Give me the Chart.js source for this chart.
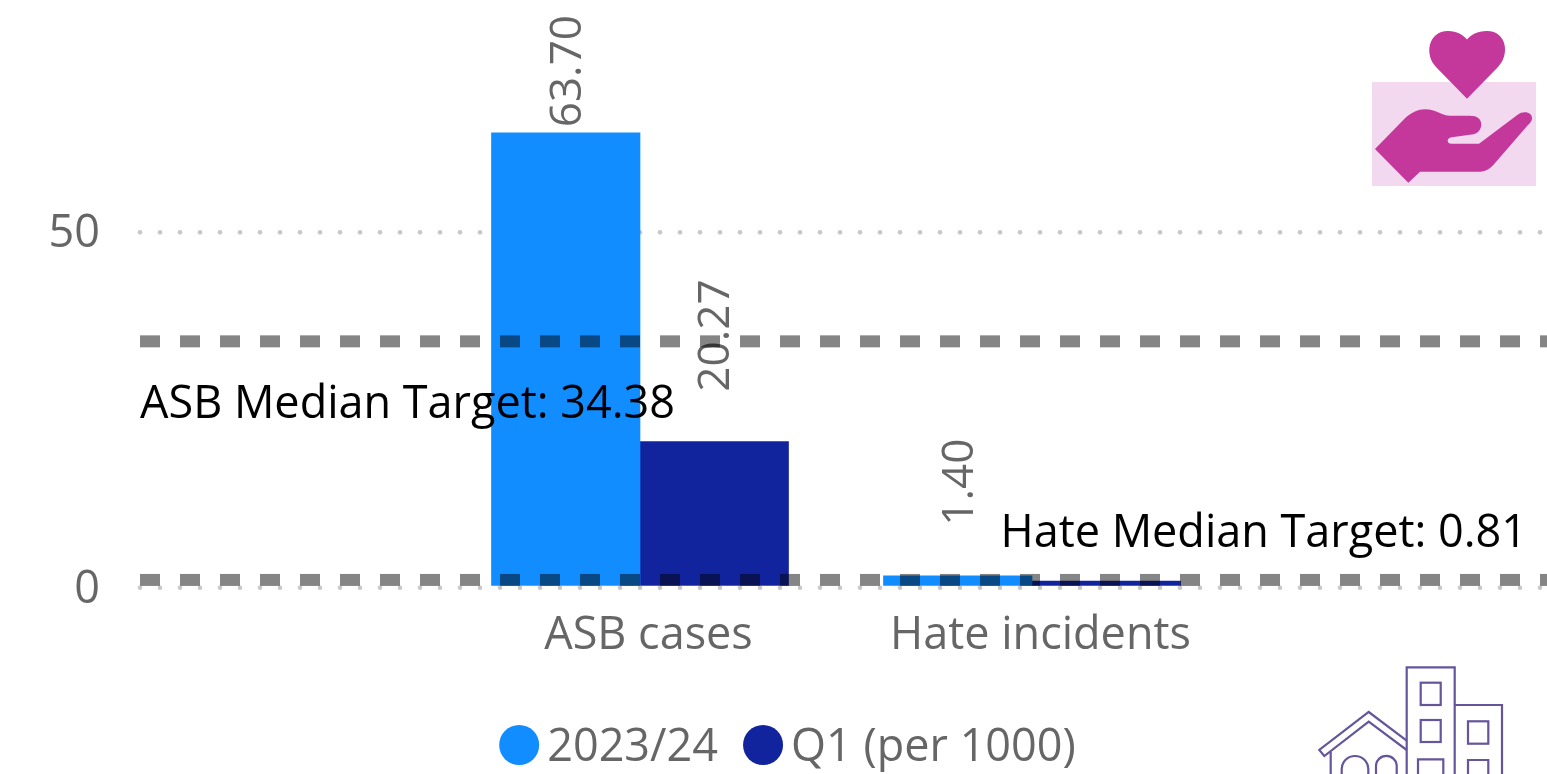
<!DOCTYPE html>
<html>
<head>
<meta charset="utf-8">
<title>ASB and hate incidents</title>
<style>
  html, body { margin: 0; padding: 0; background: #fff; overflow: hidden; }
  #wrap { position: relative; width: 1547px; height: 774px; }
  #chart { position: absolute; left: 0; top: 0; }
  svg { position: absolute; left: 0; top: 0; pointer-events: none; }
</style>
</head>
<body>
<div id="wrap">
  <canvas id="chart" width="1547" height="774"></canvas>
  <svg width="1547" height="774" viewBox="0 0 1547 774">
    <rect x="1372" y="82" width="164" height="104" fill="#f3d9ef"/>
    <g fill="#c4379b">
      <path d="M1467 98.7 L1436 67 C1424 55 1428 31 1448 31 C1457 31 1463 35 1467 39.5 C1471 35 1477 31 1487 31 C1507 31 1510 55 1498 67 Z"/>
      <path d="M1375 149 L1405 118.3 C1412 112 1418 109.3 1425 109.3 C1436 109.3 1442 115.7 1450 115.7 L1470 115.7 C1477 115.7 1481.3 119 1481.3 124.3 C1481.3 130 1477 134.3 1471.7 134.6 L1451.7 137.3 C1449 137.6 1447.7 139 1447.7 140.7 C1447.7 142.5 1449 143.7 1451.7 143.7 L1479 143.7 L1517.3 115 C1520 113 1522 112.3 1525 112.3 C1530 112.3 1533 116 1531.7 120 C1531 122 1530 123 1528 125 L1493.3 165 C1489 169.5 1485 171.7 1480 171.7 L1420 171.7 L1408.3 182.7 Z"/>
    </g>
    <g fill="none" stroke="#65559b" stroke-width="2.2">
      <path d="M1406.7 780 V667.3 H1454.7 V780"/>
      <path d="M1454.7 705 H1502 V780"/>
      <rect x="1420.7" y="682.7" width="20" height="22.3"/>
      <rect x="1420.7" y="720" width="20" height="22"/>
      <path d="M1418 780 V759.3 H1443.3 V780"/>
      <rect x="1468" y="721.3" width="20.3" height="22.4"/>
      <path d="M1468 780 V760 H1488.3 V780"/>
      <path d="M1406.7 740.7 L1368.7 712 L1319.3 750 L1324.3 756 L1368.7 721.7 L1406.7 750"/>
      <path d="M1330.7 752 V780"/>
      <path d="M1341.7 780 V769 A13.3 13 0 0 1 1368.3 769 V780"/>
      <path d="M1376 780 V766 A10.3 10 0 0 1 1396.7 766 V780"/>
    </g>
  </svg>
</div>
<script src="https://cdn.jsdelivr.net/npm/chart.js@4"></script>
<script>
const categories = ["ASB cases", "Hate incidents"];
const seriesNames = ["2023/24", "Q1 (per 1000)"];
const values2023 = [63.70, 1.40];
const valuesQ1 = [20.27, 0.65];
const medianNames = ["ASB Median Target", "Hate Median Target"];
const medianValues = [34.38, 0.81];
const yTicks = [0, 50];

const FONT = '"Open Sans", "Noto Sans", sans-serif';
const GREY = "#666666";
const TEXT_SIZE = 45;

function points(values) {
  return values.map((v, i) => ({ x: i + 1, y: v }));
}

// dotted gridlines, round dots and sitting slightly below the value they mark
const dottedGrid = {
  id: "dottedGrid",
  beforeDatasetsDraw(chart) {
    const { ctx, chartArea, scales } = chart;
    ctx.save();
    ctx.fillStyle = "#c8c8c8";
    for (const t of yTicks) {
      const y = scales.y.getPixelForValue(t) + 2;
      for (let x = chartArea.left + 2; x < chartArea.right; x += 20) {
        ctx.beginPath();
        ctx.arc(x, y, 2.3, 0, Math.PI * 2);
        ctx.fill();
      }
    }
    ctx.restore();
  }
};

// rotated value labels over the bars, pushed down if they would leave the top
const barLabels = {
  id: "barLabels",
  afterDatasetsDraw(chart) {
    const { ctx } = chart;
    ctx.save();
    ctx.font = "44px " + FONT;
    ctx.fillStyle = GREY;
    ctx.textAlign = "left";
    ctx.textBaseline = "middle";
    chart.data.datasets.forEach((ds, di) => {
      chart.getDatasetMeta(di).data.forEach((bar, i) => {
        const v = ds.data[i].y;
        if (v < 1) return;
        const text = v.toFixed(2);
        const w = ctx.measureText(text).width;
        const y = Math.max(bar.y - 50, 15 + w);
        ctx.save();
        ctx.translate(bar.x + 2.5, y);
        ctx.rotate(-Math.PI / 2);
        ctx.fillText(text, 0, 0);
        ctx.restore();
      });
    });
    ctx.restore();
  }
};

// heavy dashed median lines with their captions, painted over the bars
const medianLines = {
  id: "medianLines",
  afterDatasetsDraw(chart) {
    const { ctx, chartArea, scales } = chart;
    ctx.save();
    ctx.strokeStyle = "rgba(0,0,0,0.48)";
    ctx.lineWidth = 12;
    ctx.setLineDash([20, 20]);
    medianValues.forEach(v => {
      const y = scales.y.getPixelForValue(v);
      ctx.beginPath();
      ctx.moveTo(chartArea.left + 2, y);
      ctx.lineTo(chartArea.right, y);
      ctx.stroke();
    });
    ctx.setLineDash([]);
    ctx.fillStyle = "#000";
    ctx.font = TEXT_SIZE + "px " + FONT;
    ctx.textBaseline = "middle";
    ctx.textAlign = "left";
    ctx.fillText(medianNames[0] + ": " + medianValues[0].toFixed(2), 140, scales.y.getPixelForValue(medianValues[0]) + 64);
    ctx.textAlign = "right";
    ctx.fillText(medianNames[1] + ": " + medianValues[1].toFixed(2), 1527, scales.y.getPixelForValue(medianValues[1]) - 46);
    ctx.restore();
  }
};

// legend row under the axis: a filled circle then the series name, centred on the canvas
const seriesLegend = {
  id: "seriesLegend",
  afterDraw(chart) {
    const { ctx } = chart;
    const radius = 20;
    const gap = 8;
    const between = 25;
    const y = 745;
    ctx.save();
    ctx.font = TEXT_SIZE + "px " + FONT;
    ctx.textAlign = "left";
    ctx.textBaseline = "middle";
    const widths = seriesNames.map(n => ctx.measureText(n).width);
    const total = widths.reduce((s, w) => s + w + radius * 2 + gap, 0) + between * (seriesNames.length - 1);
    let x = (chart.width - total) / 2 + 14;
    seriesNames.forEach((name, i) => {
      ctx.fillStyle = chart.data.datasets[i].backgroundColor;
      ctx.beginPath();
      ctx.arc(x + radius, y, radius, 0, Math.PI * 2);
      ctx.fill();
      x += radius * 2 + gap;
      ctx.fillStyle = GREY;
      ctx.fillText(name, x, y + 3);
      x += widths[i] + between;
    });
    ctx.restore();
  }
};

new Chart(document.getElementById("chart").getContext("2d"), {
  type: "bar",
  data: {
    datasets: [
      { label: seriesNames[0], data: points(values2023), backgroundColor: "#118DFF" },
      { label: seriesNames[1], data: points(valuesQ1), backgroundColor: "#12239E" }
    ]
  },
  plugins: [dottedGrid, barLabels, medianLines, seriesLegend],
  options: {
    responsive: false,
    animation: false,
    devicePixelRatio: 1,
    barThickness: 148.5,
    layout: { padding: { top: 17.1, left: 0, right: 0, bottom: 68.3 } },
    plugins: {
      tooltip: { enabled: false },
      legend: { display: false }
    },
    scales: {
      x: {
        type: "linear",
        offset: false,
        min: -0.2806,
        max: 3.3138,
        grid: { display: false, drawTicks: false },
        border: { display: false },
        afterFit(scale) { scale.height = 120; },
        ticks: {
          stepSize: 1,
          includeBounds: false,
          autoSkip: false,
          maxRotation: 0,
          padding: 23,
          labelOffset: 8.5,
          color: GREY,
          font: { family: FONT, size: TEXT_SIZE },
          callback: v => categories[v - 1] || ""
        }
      },
      y: {
        min: 0,
        max: 80,
        grid: { display: false, drawTicks: false },
        border: { display: false },
        afterFit(scale) { scale.width = 138; scale.paddingTop = 0; scale.paddingBottom = 0; },
        ticks: {
          stepSize: 50,
          padding: 38,
          labelOffset: 4,
          color: GREY,
          font: { family: FONT, size: TEXT_SIZE },
          callback: v => yTicks.includes(v) ? v : ""
        }
      }
    }
  }
});
</script>
</body>
</html>
